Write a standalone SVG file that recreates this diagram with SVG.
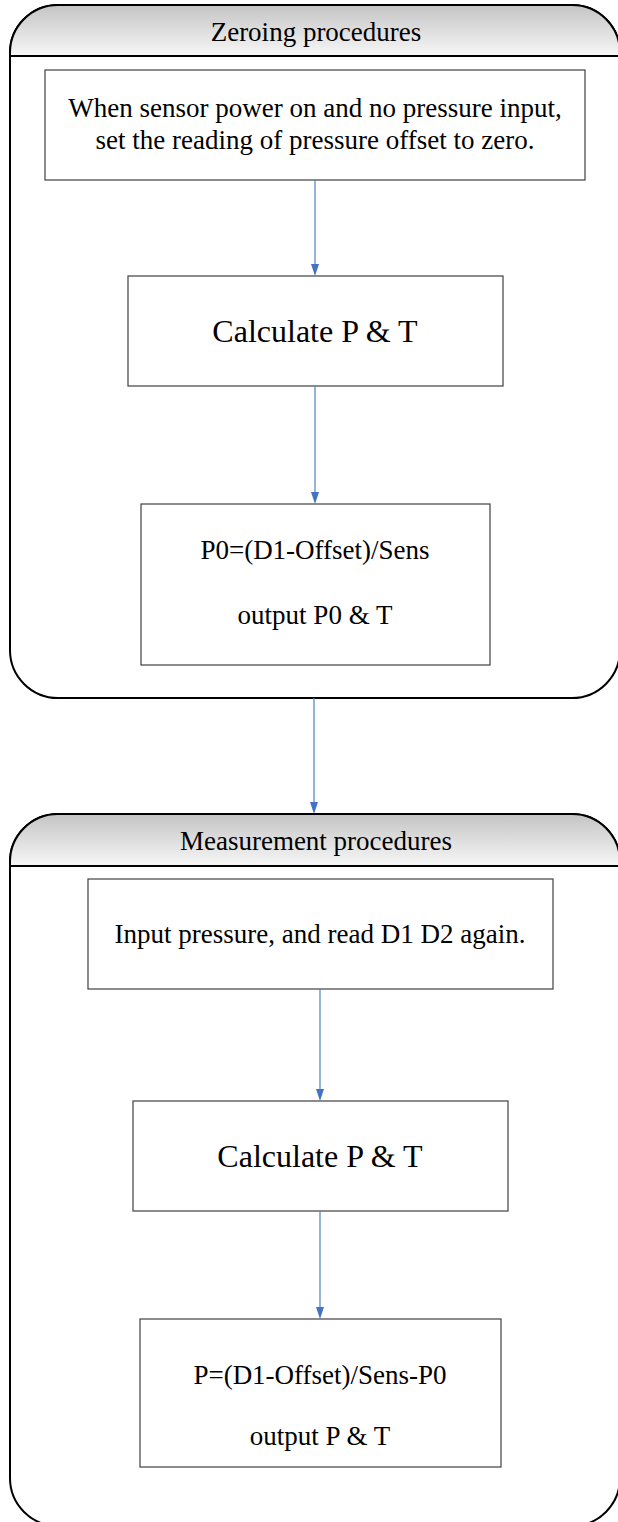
<svg xmlns="http://www.w3.org/2000/svg" width="618" height="1522" viewBox="0 0 618 1522">
<style>
.cont{fill:#ffffff;stroke:#000000;stroke-width:2}
.hdr{stroke:#000000;stroke-width:2}
.box{fill:#ffffff;stroke:#404040;stroke-width:1.2}
.t{font-family:'Liberation Serif','Tinos','Times New Roman','DejaVu Serif',serif;fill:#000000;text-anchor:middle;font-size:27px}
.big{font-size:32px}
.conn{stroke:#4f81bd;stroke-width:1.2;fill:none}
.head{fill:#4472c4}
</style>
<defs>
<linearGradient id="hg" x1="0" y1="0" x2="0" y2="1">
<stop offset="0" stop-color="#c4c4c4"/>
<stop offset="1" stop-color="#f7f7f7"/>
</linearGradient>
</defs>

<g id="container-zeroing">
<rect class="cont" x="10" y="5" width="610" height="693" rx="48" ry="48"/>
<path d="M10,56 L10,53 A48,48 0 0 1 58,5 L572,5 A48,48 0 0 1 620,53 L620,56 Z" fill="url(#hg)" stroke="#000" stroke-width="2"/>
<line class="hdr" x1="10" y1="56" x2="620" y2="56"/>
<text class="t" x="316" y="41">Zeroing procedures</text>
</g>

<g id="container-measurement">
<rect class="cont" x="10" y="814" width="610" height="712" rx="48" ry="48"/>
<path d="M10,866 L10,862 A48,48 0 0 1 58,814 L572,814 A48,48 0 0 1 620,862 L620,866 Z" fill="url(#hg)" stroke="#000" stroke-width="2"/>
<line class="hdr" x1="10" y1="866" x2="620" y2="866"/>
<text class="t" x="316" y="850">Measurement procedures</text>
</g>

<g id="n1">
<rect class="box" x="45" y="70" width="540" height="110"/>
<text class="t" x="315" y="117">When sensor power on and no pressure input,</text>
<text class="t" x="315" y="149">set the reading of pressure offset to zero.</text>
</g>

<g id="n2">
<rect class="box" x="128" y="276" width="375" height="110"/>
<text class="t big" x="315" y="342">Calculate P &amp; T</text>
</g>

<g id="n3">
<rect class="box" x="141" y="504" width="349" height="161"/>
<text class="t" x="315" y="559">P0=(D1-Offset)/Sens</text>
<text class="t" x="315" y="624">output P0 &amp; T</text>
</g>

<g id="n4">
<rect class="box" x="88" y="879" width="465" height="110"/>
<text class="t" x="320" y="943">Input pressure, and read D1 D2 again.</text>
</g>

<g id="n5">
<rect class="box" x="133" y="1101" width="375" height="110"/>
<text class="t big" x="320" y="1167">Calculate P &amp; T</text>
</g>

<g id="n6">
<rect class="box" x="140" y="1319" width="361" height="148"/>
<text class="t" x="320" y="1384">P=(D1-Offset)/Sens-P0</text>
<text class="t" x="320" y="1445">output P &amp; T</text>
</g>

<g id="connectors">
<path class="conn" d="M315,180 L315,264"/>
<path class="head" d="M311,264 L319,264 L315,276 Z"/>
<path class="conn" d="M315,386 L315,492"/>
<path class="head" d="M311,492 L319,492 L315,504 Z"/>
<path class="conn" d="M314,698 L314,802"/>
<path class="head" d="M310,802 L318,802 L314,814 Z"/>
<path class="conn" d="M320,989 L320,1089"/>
<path class="head" d="M316,1089 L324,1089 L320,1101 Z"/>
<path class="conn" d="M320,1211 L320,1307"/>
<path class="head" d="M316,1307 L324,1307 L320,1319 Z"/>
</g>
</svg>
